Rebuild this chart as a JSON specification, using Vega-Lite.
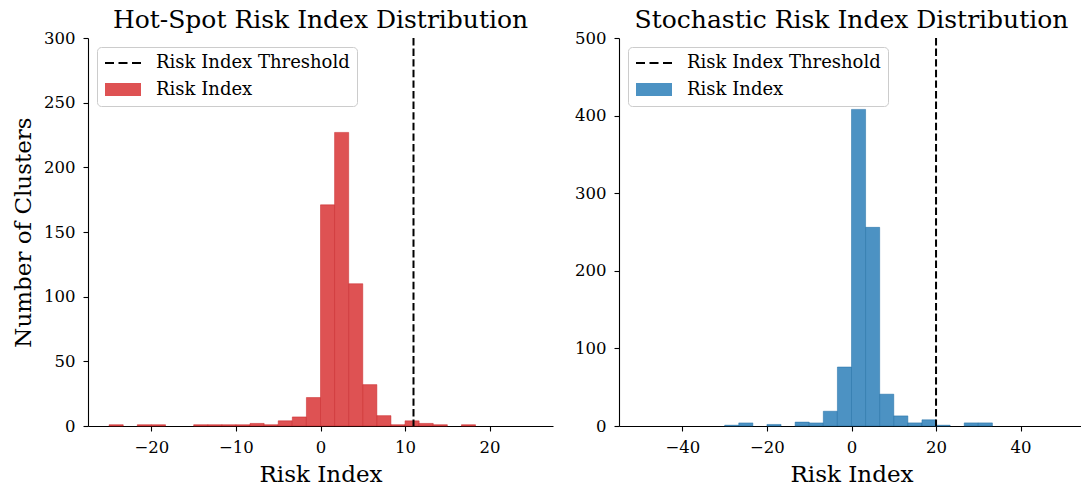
{
  "$schema": "https://vega.github.io/schema/vega-lite/v6.json",
  "padding": {"left": 12, "top": 8, "right": 0, "bottom": 0},
  "background": "white",
  "config": {
    "font": "DejaVu Serif",
    "view": {"stroke": null},
    "axis": {
      "domainColor": "#000000", "domainWidth": 1.1,
      "tickColor": "#000000", "tickWidth": 1.1, "tickSize": 5,
      "labelColor": "#000000", "labelFontSize": 16.5, "labelFont": "DejaVu Serif",
      "titleFont": "DejaVu Serif", "titleFontSize": 23, "titleFontWeight": "normal", "titleColor": "#000000",
      "grid": false, "labelPadding": 8, "titlePadding": 8
    },
    "title": {"font": "DejaVu Serif", "fontSize": 25, "fontWeight": "normal", "color": "#000000", "anchor": "middle", "frame": "group", "baseline": "alphabetic", "offset": -3},
    "legend": {
      "title": null, "orient": "top-left", "offset": 9, "symbolSize": 256, "symbolStrokeWidth": 0,
      "labelFont": "DejaVu Serif", "labelFontSize": 18, "labelColor": "#000000", "labelLimit": 400,
      "padding": 7, "strokeColor": "#cccccc", "fillColor": "rgba(255,255,255,0.8)", "cornerRadius": 4,
      "labelOffset": 34, "rowPadding": 8.5
    },
    "concat": {"spacing": 21}
  },
  "datasets": {
    "hotspot": [
      {"bin_start": -25, "bin_end": -23.333, "count": 1, "series": "Risk Index"},
      {"bin_start": -21.667, "bin_end": -20, "count": 1, "series": "Risk Index"},
      {"bin_start": -20, "bin_end": -18.333, "count": 1, "series": "Risk Index"},
      {"bin_start": -15, "bin_end": -13.333, "count": 1, "series": "Risk Index"},
      {"bin_start": -13.333, "bin_end": -11.667, "count": 1, "series": "Risk Index"},
      {"bin_start": -11.667, "bin_end": -10, "count": 1, "series": "Risk Index"},
      {"bin_start": -10, "bin_end": -8.333, "count": 1, "series": "Risk Index"},
      {"bin_start": -8.333, "bin_end": -6.667, "count": 2, "series": "Risk Index"},
      {"bin_start": -6.667, "bin_end": -5, "count": 1, "series": "Risk Index"},
      {"bin_start": -5, "bin_end": -3.333, "count": 4, "series": "Risk Index"},
      {"bin_start": -3.333, "bin_end": -1.667, "count": 7, "series": "Risk Index"},
      {"bin_start": -1.667, "bin_end": 0, "count": 22, "series": "Risk Index"},
      {"bin_start": 0, "bin_end": 1.667, "count": 171, "series": "Risk Index"},
      {"bin_start": 1.667, "bin_end": 3.333, "count": 227, "series": "Risk Index"},
      {"bin_start": 3.333, "bin_end": 5, "count": 110, "series": "Risk Index"},
      {"bin_start": 5, "bin_end": 6.667, "count": 32, "series": "Risk Index"},
      {"bin_start": 6.667, "bin_end": 8.333, "count": 8, "series": "Risk Index"},
      {"bin_start": 8.333, "bin_end": 10, "count": 1, "series": "Risk Index"},
      {"bin_start": 10, "bin_end": 11.667, "count": 4, "series": "Risk Index"},
      {"bin_start": 11.667, "bin_end": 13.333, "count": 2, "series": "Risk Index"},
      {"bin_start": 13.333, "bin_end": 15, "count": 1, "series": "Risk Index"},
      {"bin_start": 16.667, "bin_end": 18.333, "count": 1, "series": "Risk Index"}
    ],
    "stochastic": [
      {"bin_start": -30, "bin_end": -26.667, "count": 1, "series": "Risk Index"},
      {"bin_start": -26.667, "bin_end": -23.333, "count": 4, "series": "Risk Index"},
      {"bin_start": -20, "bin_end": -16.667, "count": 2, "series": "Risk Index"},
      {"bin_start": -13.333, "bin_end": -10, "count": 5, "series": "Risk Index"},
      {"bin_start": -10, "bin_end": -6.667, "count": 4, "series": "Risk Index"},
      {"bin_start": -6.667, "bin_end": -3.333, "count": 19, "series": "Risk Index"},
      {"bin_start": -3.333, "bin_end": 0, "count": 76, "series": "Risk Index"},
      {"bin_start": 0, "bin_end": 3.333, "count": 408, "series": "Risk Index"},
      {"bin_start": 3.333, "bin_end": 6.667, "count": 256, "series": "Risk Index"},
      {"bin_start": 6.667, "bin_end": 10, "count": 41, "series": "Risk Index"},
      {"bin_start": 10, "bin_end": 13.333, "count": 13, "series": "Risk Index"},
      {"bin_start": 13.333, "bin_end": 16.667, "count": 4, "series": "Risk Index"},
      {"bin_start": 16.667, "bin_end": 20, "count": 8, "series": "Risk Index"},
      {"bin_start": 20, "bin_end": 23.333, "count": 1, "series": "Risk Index"},
      {"bin_start": 26.667, "bin_end": 30, "count": 4, "series": "Risk Index"},
      {"bin_start": 30, "bin_end": 33.333, "count": 4, "series": "Risk Index"}
    ],
    "threshold_hot": [{"threshold": 11, "series": "Risk Index Threshold"}],
    "threshold_sto": [{"threshold": 20, "series": "Risk Index Threshold"}]
  },
  "hconcat": [
    {
      "width": 465, "height": 388,
      "title": "Hot-Spot Risk Index Distribution",
      "layer": [
        {
          "data": {"name": "hotspot"},
          "mark": {"type": "bar", "orient": "vertical", "stroke": "#c82022", "strokeWidth": 0.6, "strokeOpacity": 0.8},
          "encoding": {
            "x": {"field": "bin_start", "type": "quantitative", "scale": {"domain": [-27.5, 27.5], "nice": false, "zero": false, "padding": 0}, "axis": {"values": [-20, -10, 0, 10, 20], "title": "Risk Index"}},
            "x2": {"field": "bin_end"},
            "y": {"field": "count", "type": "quantitative", "scale": {"domain": [0, 300], "nice": false, "padding": 0}, "axis": {"values": [0, 50, 100, 150, 200, 250, 300], "title": "Number of Clusters"}},
            "y2": {"datum": 0},
            "color": {
              "field": "series", "type": "nominal",
              "scale": {"domain": ["Risk Index Threshold", "Risk Index"], "range": ["#000000", "#de5253"]},
              "legend": {
                "symbolType": {"expr": "datum.value === 'Risk Index' ? 'M-1,-0.8125H3.5V0.8125H-1Z' : 'M-1,-0.1375H0.125V0.1375H-1Z M0.6875,-0.1375H1.8125V0.1375H0.6875Z M2.375,-0.1375H3.5V0.1375H2.375Z'"}
              }
            }
          }
        },
        {
          "data": {"name": "threshold_hot"},
          "mark": {"type": "rule", "strokeDash": [7.4, 3.2], "strokeWidth": 2},
          "encoding": {
            "x": {"field": "threshold", "type": "quantitative"},
            "color": {"field": "series", "type": "nominal"}
          }
        }
      ]
    },
    {
      "width": 465, "height": 388,
      "title": "Stochastic Risk Index Distribution",
      "layer": [
        {
          "data": {"name": "stochastic"},
          "mark": {"type": "bar", "orient": "vertical", "stroke": "#1a6aa3", "strokeWidth": 0.6, "strokeOpacity": 0.8},
          "encoding": {
            "x": {"field": "bin_start", "type": "quantitative", "scale": {"domain": [-55, 55], "nice": false, "zero": false, "padding": 0}, "axis": {"values": [-40, -20, 0, 20, 40], "title": "Risk Index"}},
            "x2": {"field": "bin_end"},
            "y": {"field": "count", "type": "quantitative", "scale": {"domain": [0, 500], "nice": false, "padding": 0}, "axis": {"values": [0, 100, 200, 300, 400, 500], "title": null}},
            "y2": {"datum": 0},
            "color": {
              "field": "series", "type": "nominal",
              "scale": {"domain": ["Risk Index Threshold", "Risk Index"], "range": ["#000000", "#4c92c3"]},
              "legend": {
                "symbolType": {"expr": "datum.value === 'Risk Index' ? 'M-1,-0.8125H3.5V0.8125H-1Z' : 'M-1,-0.1375H0.125V0.1375H-1Z M0.6875,-0.1375H1.8125V0.1375H0.6875Z M2.375,-0.1375H3.5V0.1375H2.375Z'"}
              }
            }
          }
        },
        {
          "data": {"name": "threshold_sto"},
          "mark": {"type": "rule", "strokeDash": [7.4, 3.2], "strokeWidth": 2},
          "encoding": {
            "x": {"field": "threshold", "type": "quantitative"},
            "color": {"field": "series", "type": "nominal"}
          }
        }
      ]
    }
  ],
  "resolve": {"scale": {"color": "independent", "x": "independent", "y": "independent"}, "legend": {"color": "independent"}}
}
